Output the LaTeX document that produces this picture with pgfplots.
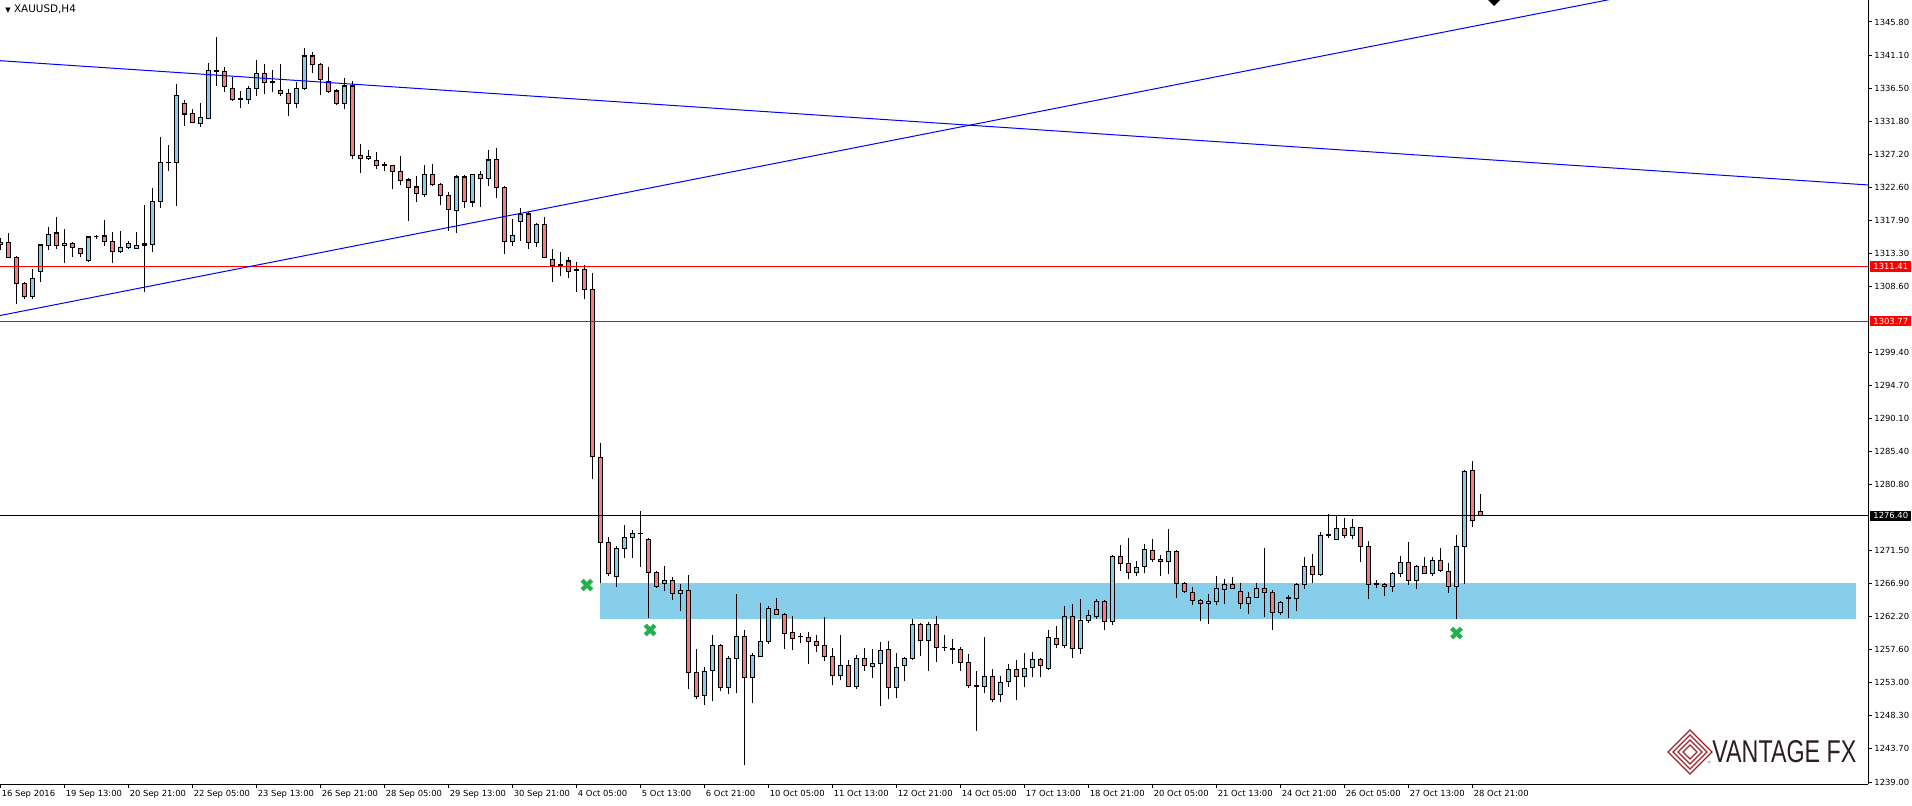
\documentclass[border=0pt]{standalone}
\usepackage{fontspec}
\setmainfont{DejaVu Sans}
\newfontfamily\logofont{Liberation Sans}
\usepackage{pgfplots}
\usepackage{pgfplotstable}
\pgfplotsset{compat=1.18}

\definecolor{upc}{RGB}{135,206,235}
\definecolor{dnc}{RGB}{240,128,128}
\definecolor{zone}{RGB}{135,206,235}
\definecolor{xgreen}{RGB}{34,177,76}
\definecolor{logored}{RGB}{160,35,40}
\definecolor{logotxt}{RGB}{45,30,30}

% XAUUSD H4 candles: bar index, open, high, low, close
\pgfplotstableread{
k o h l c
0 1314.56 1315.44 1313.76 1314.84
1 1314.84 1316.10 1312.60 1312.73
2 1312.73 1312.90 1306.13 1309.08
3 1309.08 1309.30 1306.83 1307.19
4 1307.19 1311.09 1306.83 1309.78
5 1310.71 1314.60 1309.30 1314.46
6 1314.36 1316.95 1313.76 1315.96
7 1316.15 1318.44 1313.90 1314.36
8 1314.42 1316.71 1311.97 1314.70
9 1314.70 1314.84 1312.82 1314.14
10 1314.00 1314.08 1312.73 1313.29
11 1312.25 1315.72 1312.11 1315.58
12 1315.63 1315.87 1315.35 1315.63
13 1315.72 1317.97 1314.36 1314.92
14 1314.98 1316.24 1311.97 1313.52
15 1313.52 1316.38 1313.29 1314.14
16 1314.14 1315.02 1313.90 1314.70
17 1313.94 1316.24 1313.85 1314.42
18 1314.42 1320.08 1307.90 1314.60
19 1314.56 1322.47 1313.52 1320.54
20 1320.54 1329.60 1319.70 1326.03
21 1326.03 1328.51 1324.90 1326.10
22 1326.03 1337.09 1319.98 1335.44
23 1334.37 1334.84 1331.18 1332.87
24 1332.97 1333.53 1331.56 1331.65
25 1331.56 1334.37 1331.08 1332.41
26 1332.27 1339.99 1332.12 1338.95
27 1338.95 1343.65 1336.85 1338.85
28 1338.81 1339.43 1336.00 1336.71
29 1336.48 1338.03 1334.74 1334.94
30 1334.94 1336.10 1333.67 1335.00
31 1334.94 1336.80 1334.23 1336.48
32 1336.48 1340.46 1335.44 1338.59
33 1338.59 1339.90 1335.64 1337.32
34 1337.32 1339.05 1336.00 1337.45
35 1336.20 1339.90 1335.44 1335.78
36 1335.78 1336.34 1332.63 1334.37
37 1334.37 1337.37 1333.76 1336.48
38 1336.48 1342.10 1336.28 1341.02
39 1341.02 1341.58 1338.67 1339.85
40 1339.85 1340.04 1335.61 1337.75
41 1337.46 1339.43 1335.86 1336.00
42 1336.10 1336.34 1334.18 1334.37
43 1334.37 1337.89 1333.53 1336.80
44 1336.80 1337.55 1326.59 1327.01
45 1327.07 1328.65 1324.62 1326.64
46 1326.64 1327.77 1326.41 1326.93
47 1326.36 1327.53 1325.14 1325.60
48 1325.60 1326.08 1324.90 1325.70
49 1325.66 1325.74 1322.29 1324.82
50 1324.82 1326.97 1322.85 1323.55
51 1323.59 1323.92 1317.88 1322.57
52 1322.61 1324.20 1320.46 1321.73
53 1321.59 1325.66 1321.25 1324.40
54 1324.40 1325.84 1322.79 1322.99
55 1322.99 1323.13 1320.12 1321.44
56 1321.44 1321.87 1316.47 1319.48
57 1319.34 1324.26 1316.10 1324.02
58 1324.02 1324.26 1319.62 1320.60
59 1320.50 1324.50 1319.84 1324.40
60 1324.40 1324.86 1319.84 1323.83
61 1323.83 1327.81 1322.79 1326.41
62 1326.50 1328.05 1321.02 1322.57
63 1322.57 1322.70 1313.15 1314.92
64 1314.92 1318.07 1314.36 1315.82
65 1317.73 1319.62 1315.06 1318.77
66 1318.82 1319.14 1313.90 1314.84
67 1314.84 1317.59 1314.22 1317.37
68 1317.37 1318.35 1312.60 1312.73
69 1312.45 1313.86 1309.30 1311.61
70 1311.61 1313.48 1310.15 1311.75
71 1312.21 1312.73 1309.86 1310.76
72 1310.90 1312.07 1307.90 1311.00
73 1311.05 1311.61 1306.83 1308.23
74 1308.23 1310.48 1281.53 1284.71
75 1284.63 1286.64 1266.92 1272.68
76 1272.68 1273.38 1267.94 1268.32
77 1267.85 1272.16 1266.44 1271.84
78 1271.84 1275.07 1270.52 1273.38
79 1273.38 1274.41 1270.52 1273.95
80 1273.95 1277.12 1269.25 1273.90
81 1273.10 1273.30 1262.08 1268.46
82 1268.46 1268.69 1266.30 1266.44
83 1266.92 1269.35 1265.88 1267.31
84 1267.31 1267.80 1264.57 1265.51
85 1265.51 1266.82 1263.07 1265.93
86 1265.93 1268.09 1252.02 1254.41
87 1254.41 1257.69 1250.62 1251.04
88 1251.18 1255.16 1249.77 1254.55
89 1254.69 1259.65 1250.34 1258.21
90 1258.21 1258.40 1251.74 1252.30
91 1252.30 1256.66 1251.32 1256.38
92 1256.38 1265.42 1251.46 1259.47
93 1259.47 1260.36 1241.34 1253.71
94 1253.71 1257.08 1250.06 1256.80
95 1256.66 1264.15 1256.50 1258.77
96 1258.77 1263.73 1258.35 1263.41
97 1263.26 1264.85 1262.45 1262.56
98 1262.56 1262.70 1257.73 1259.89
99 1260.03 1262.28 1257.50 1259.19
100 1259.41 1259.89 1258.49 1259.45
101 1259.33 1260.08 1255.54 1258.77
102 1258.77 1259.61 1257.22 1258.21
103 1258.21 1262.14 1255.96 1256.66
104 1256.66 1257.78 1252.58 1253.99
105 1253.99 1259.61 1253.29 1255.40
106 1255.40 1256.14 1252.30 1252.44
107 1252.44 1256.84 1252.02 1256.38
108 1256.38 1257.78 1254.66 1255.40
109 1255.25 1257.64 1253.57 1255.68
110 1255.68 1258.63 1249.72 1257.50
111 1257.64 1258.77 1250.62 1252.30
112 1252.30 1257.08 1250.76 1255.11
113 1255.40 1256.56 1253.15 1256.38
114 1256.38 1261.86 1256.20 1261.16
115 1261.16 1261.30 1256.74 1258.91
116 1258.91 1261.44 1254.64 1261.16
117 1261.16 1262.28 1255.82 1257.93
118 1257.93 1259.61 1257.36 1257.85
119 1257.78 1259.05 1255.62 1257.64
120 1257.64 1257.93 1254.64 1255.82
121 1255.82 1256.94 1252.16 1252.58
122 1252.58 1254.55 1246.20 1252.50
123 1252.44 1259.33 1251.54 1253.85
124 1253.85 1254.83 1250.20 1250.62
125 1251.32 1253.85 1250.20 1253.01
126 1253.15 1255.54 1252.39 1254.83
127 1254.83 1256.10 1250.48 1253.85
128 1253.85 1257.08 1252.30 1254.97
129 1255.11 1257.22 1253.71 1256.24
130 1256.24 1256.38 1253.71 1255.40
131 1254.97 1260.31 1254.80 1259.33
132 1259.19 1260.88 1257.78 1258.35
133 1258.21 1263.69 1257.78 1262.28
134 1262.28 1263.97 1256.38 1257.78
135 1257.78 1264.67 1256.94 1261.72
136 1261.72 1263.12 1261.30 1262.42
137 1262.28 1264.67 1261.86 1264.39
138 1264.39 1264.53 1260.31 1261.58
139 1261.58 1270.85 1261.02 1270.71
140 1270.71 1272.26 1268.69 1269.73
141 1269.73 1273.24 1267.48 1268.46
142 1268.46 1270.01 1267.90 1269.17
143 1269.31 1272.40 1268.32 1271.70
144 1271.56 1273.10 1269.87 1270.29
145 1270.29 1270.85 1267.90 1270.01
146 1270.01 1274.51 1268.18 1271.42
147 1271.42 1271.60 1264.81 1266.92
148 1266.92 1267.05 1265.51 1265.79
149 1265.65 1266.36 1263.83 1264.53
150 1264.53 1264.67 1261.58 1264.11
151 1264.11 1265.37 1261.16 1264.39
152 1264.39 1267.90 1263.83 1266.22
153 1266.08 1267.48 1263.97 1266.78
154 1266.78 1267.76 1266.08 1266.22
155 1265.79 1266.92 1263.27 1264.11
156 1264.11 1265.65 1262.56 1264.95
157 1264.95 1266.92 1264.81 1266.22
158 1266.22 1271.84 1262.22 1265.65
159 1265.65 1265.93 1260.40 1262.79
160 1262.79 1264.39 1262.51 1264.25
161 1264.81 1265.23 1262.08 1264.85
162 1264.81 1266.92 1263.07 1266.78
163 1266.78 1270.57 1266.16 1269.31
164 1269.31 1270.99 1266.92 1268.18
165 1268.18 1274.09 1268.00 1273.66
166 1273.66 1276.62 1273.24 1273.70
167 1273.10 1276.47 1272.96 1274.65
168 1274.65 1276.05 1273.24 1273.66
169 1273.66 1275.91 1273.10 1274.79
170 1274.79 1274.90 1269.87 1272.12
171 1272.12 1272.82 1264.67 1266.78
172 1266.78 1267.34 1266.22 1266.82
173 1266.78 1266.92 1265.09 1266.50
174 1266.50 1268.46 1265.65 1268.32
175 1268.32 1270.71 1267.76 1269.87
176 1269.87 1272.68 1266.64 1267.34
177 1267.34 1269.45 1266.08 1269.31
178 1269.31 1270.57 1268.18 1268.32
179 1268.32 1270.57 1267.90 1270.15
180 1270.15 1271.84 1268.46 1268.75
181 1268.61 1269.73 1265.51 1266.50
182 1266.50 1273.66 1261.86 1272.12
183 1272.12 1282.80 1266.78 1282.66
184 1282.80 1284.06 1274.79 1275.77
185 1277.04 1279.43 1276.33 1276.40
}\candles

\newcommand\lbl{\fontsize{4.2}{4.6}\selectfont}

\begin{document}
\begin{tikzpicture}[x=0.5pt,y=0.5pt]
\useasboundingbox (0,0) rectangle (1912,805);
\begin{axis}[
    at={(0pt,10.5pt)}, anchor=south west,
    scale only axis, width=934pt, height=392pt,
    xmin=-0.0625, xmax=233.44,
    ymin=1238.72, ymax=1348.89,
    axis x line=bottom, axis y line=right,
    axis line style={-, black, line width=0.5pt},
    tick style={black, line width=0.5pt},
    tick align=outside, major tick length=2pt,
    xtick={0,8,...,184},
    xticklabels={16 Sep 2016,19 Sep 13:00,20 Sep 21:00,22 Sep 05:00,23 Sep 13:00,26 Sep 21:00,28 Sep 05:00,29 Sep 13:00,30 Sep 21:00,4 Oct 05:00,5 Oct 13:00,6 Oct 21:00,10 Oct 05:00,11 Oct 13:00,12 Oct 21:00,14 Oct 05:00,17 Oct 13:00,18 Oct 21:00,20 Oct 05:00,21 Oct 13:00,24 Oct 21:00,26 Oct 05:00,27 Oct 13:00,28 Oct 21:00},
    ytick={1239.00,1243.70,1248.30,1253.00,1257.60,1262.20,1266.90,1271.50,1280.80,1285.40,1290.10,1294.70,1299.40,1308.60,1313.30,1317.90,1322.60,1327.20,1331.80,1336.50,1341.10,1345.80},
    yticklabels={1239.00,1243.70,1248.30,1253.00,1257.60,1262.20,1266.90,1271.50,1280.80,1285.40,1290.10,1294.70,1299.40,1308.60,1313.30,1317.90,1322.60,1327.20,1331.80,1336.50,1341.10,1345.80},
    xticklabel style={font=\lbl, anchor=north west, inner sep=0pt, xshift=0.5pt, yshift=-1pt},
    yticklabel style={font=\lbl, anchor=west, inner sep=0pt, xshift=1pt},
]
% support zone
\addplot[forget plot, fill=zone, draw=none] coordinates {(75,1261.94) (231.94,1261.94) (231.94,1266.96) (75,1266.96)};

% candles
\pgfplotstablegetrowsof{\candles}
\pgfmathtruncatemacro{\lastrow}{\pgfplotsretval-1}
\pgfplotsforeachungrouped \row in {0,...,\lastrow}{%
  \pgfplotstablegetelem{\row}{k}\of\candles\let\cK\pgfplotsretval
  \pgfplotstablegetelem{\row}{o}\of\candles\let\cO\pgfplotsretval
  \pgfplotstablegetelem{\row}{h}\of\candles\let\cH\pgfplotsretval
  \pgfplotstablegetelem{\row}{l}\of\candles\let\cL\pgfplotsretval
  \pgfplotstablegetelem{\row}{c}\of\candles\let\cC\pgfplotsretval
  \pgfmathsetmacro{\kl}{\cK-0.25}%
  \pgfmathsetmacro{\kr}{\cK+0.25}%
  \ifdim\cC pt>\cO pt\def\bc{upc}\else\def\bc{dnc}\fi
  \edef\doit{%
    \noexpand\addplot[forget plot, black, line width=0.6pt] coordinates {(\cK,\cL) (\cK,\cH)};%
    \noexpand\addplot[forget plot, draw=black, fill=\bc, line width=0.6pt, line join=miter] coordinates {(\kl,\cO) (\kr,\cO) (\kr,\cC) (\kl,\cC) (\kl,\cO)};%
  }\doit
}

% horizontal levels and trend lines
\addplot[forget plot, red, line width=0.5pt] coordinates {(-1,1311.41) (240,1311.41)};
\addplot[forget plot, red, line width=0.5pt] coordinates {(-1,1303.77) (240,1303.77)};
\addplot[forget plot, black, line width=0.5pt] coordinates {(-1,1276.40) (240,1276.40)};
\addplot[forget plot, blue, line width=0.5pt] coordinates {(-0.0625,1340.36) (233.44,1322.90)};
\addplot[forget plot, blue, line width=0.5pt] coordinates {(-0.0625,1304.55) (233.44,1356.08)};

% green crosses
\addplot[forget plot, only marks, mark=x, mark size=3.4pt, xgreen, line width=2.1pt] coordinates {(73.3,1266.68) (81.2,1260.36) (182.0,1259.93)};

\coordinate (r1) at (axis cs:233.44,1311.41);
\coordinate (r2) at (axis cs:233.44,1303.77);
\coordinate (r3) at (axis cs:233.44,1276.40);
\end{axis}

% price labels on the right axis
\foreach \p/\v/\col in {r1/1311.41/red, r2/1303.77/red, r3/1276.40/black}{
  \node[fill=\col, text=white, anchor=west, inner xsep=1.5pt, inner ysep=0pt, minimum height=5.3pt, font=\lbl] at ([xshift=1pt]\p) {\v};
}

% title
\node[anchor=west, inner sep=0pt] at (5,796) {\fontsize{3.5}{3.5}\selectfont▼\fontsize{5.2}{5.5}\selectfont\ XAUUSD,H4};

% arrow object at the top edge
\fill[black] (1488,805) -- (1500,805) -- (1494,799) -- cycle;

% logo
\begin{scope}[logored, line width=0.6pt]
  \foreach \s in {22,17,12,7}{
    \draw (1690-\s,53) -- (1690,53+\s) -- (1690+\s,53) -- (1690,53-\s) -- cycle;
  }
\end{scope}
\fill[gray!60] (1709,43) circle (1.5);
\node[anchor=west, inner sep=0pt, text=logotxt] at (1712,53) {\resizebox{72pt}{11pt}{\logofont VANTAGE FX}};
\end{tikzpicture}
\end{document}
